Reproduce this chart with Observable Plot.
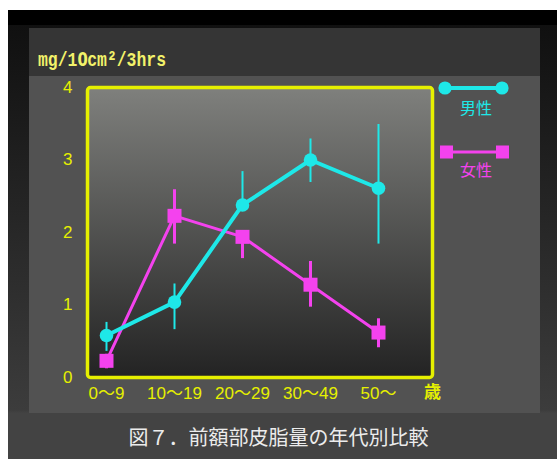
<!DOCTYPE html>
<html>
<head>
<meta charset="utf-8">
<script src="https://cdn.jsdelivr.net/npm/d3@7"></script>
<script src="https://cdn.jsdelivr.net/npm/@observablehq/plot@0.6"></script>
<style>
  html, body { margin: 0; padding: 0; background: #fff; }
  #stage { position: relative; width: 557px; height: 459px; overflow: hidden; }
  #outer {
    position: absolute; left: 8px; top: 10px; width: 549px; height: 449px;
    background: linear-gradient(to bottom, #000 0px, #000 15px, #101010 15px, #3c3c3c 400px, #434343 403px, #434343 100%);
  }
  #panel {
    position: absolute; left: 29px; top: 28px; width: 511px; height: 385px;
    background: linear-gradient(to bottom, #353535 0px, #353535 48px, #525252 48px, #525252 100%);
  }
  #unit {
    position: absolute; left: 38px; top: 49px; line-height: 20px; display: inline-block;
    font-family: "Liberation Mono", monospace; font-size: 20px; font-weight: bold; color: #f2f26a;
    transform-origin: left top; white-space: nowrap;
  }
  #unit .plain0 {
    display: inline-block; width: 12px; text-align: center;
    font-family: "DejaVu Sans Condensed", "DejaVu Sans", sans-serif;
  }
  #chart { position: absolute; left: 0; top: 0; }
  #legend { position: absolute; left: 430px; top: 75px; }
  #caption {
    position: absolute; left: 0; top: 427px; width: 557px; line-height: 20px;
    text-align: center; font-family: "Noto Sans CJK JP", sans-serif; font-size: 20px; color: #ececec;
  }
</style>
</head>
<body>
<div id="stage">
  <div id="outer"></div>
  <div id="panel"></div>
  <div id="unit">mg/1<span class="plain0">0</span>cm²/3hrs</div>
  <div id="chart"></div>
  <div id="legend"></div>
  <div id="caption">図７．前額部皮脂量の年代別比較</div>
</div>
<script>
// Age groups (x axis)
const ages = ["0〜9", "10〜19", "20〜29", "30〜49", "50〜"];
const yTicks = [0, 1, 2, 3, 4];
const ageUnit = "歳";

// Forehead sebum, men: mean and error-bar ends
const maleMean = [0.58, 1.04, 2.38, 3.00, 2.61];
const maleLow  = [0.36, 0.66, 2.38, 2.69, 1.84];
const maleHigh = [0.76, 1.29, 2.84, 3.29, 3.49];

// Forehead sebum, women: mean and error-bar ends
const femaleMean = [0.23, 2.23, 1.94, 1.28, 0.62];
const femaleLow  = [0.12, 1.84, 1.64, 0.97, 0.41];
const femaleHigh = [0.32, 2.59, 1.94, 1.60, 0.81];

const seriesNames = ["男性", "女性"];

const cyan = "#1ee8e8";
const magenta = "#f442ee";
const yellow = "#e6f000";

const rows = (mean, low, high) => ages.map((age, i) => ({age, mean: mean[i], low: low[i], high: high[i]}));
const male = rows(maleMean, maleLow, maleHigh);
const female = rows(femaleMean, femaleLow, femaleHigh);

const PLACEHOLDER = "#010203";

const chart = Plot.plot({
  width: 557,
  height: 459,
  marginTop: 87,
  marginBottom: 82,
  marginLeft: 87,
  marginRight: 125,
  style: {
    background: "transparent",
    color: yellow,
    fontSize: "17px",
    fontFamily: '"Liberation Sans", "Noto Sans CJK JP", sans-serif',
    overflow: "visible"
  },
  x: {type: "point", domain: ages, range: [105, 379], padding: 0, label: null, tickSize: 0, tickPadding: 9},
  y: {domain: [0, 4], ticks: yTicks, tickFormat: d => String(d), label: null, tickSize: 0, tickPadding: 15},
  marks: [
    Plot.frame({fill: PLACEHOLDER, stroke: "none"}),
    Plot.ruleX(female, {x: "age", y1: "low", y2: "high", stroke: magenta, strokeWidth: 3}),
    Plot.line(female, {x: "age", y: "mean", stroke: magenta, strokeWidth: 3}),
    Plot.dot(female, {x: "age", y: "mean", symbol: "square", r: 7.9, fill: magenta, stroke: "none"}),
    Plot.ruleX(male, {x: "age", y1: "low", y2: "high", stroke: cyan, strokeWidth: 2}),
    Plot.line(male, {x: "age", y: "mean", stroke: cyan, strokeWidth: 4}),
    Plot.dot(male, {x: "age", y: "mean", r: 6.8, fill: cyan, stroke: "none"}),
    Plot.frame({stroke: yellow, strokeWidth: 3.5, rx: 3}),
    Plot.text([ageUnit], {text: d => d, frameAnchor: "bottom-right", dy: 15, textAnchor: "middle", lineAnchor: "middle", fill: yellow, fontSize: 17, fontWeight: "bold"})
  ]
});

// Vertical shading inside the plot frame
const svg = d3.select(chart);
const grad = svg.insert("defs", ":first-child")
  .append("linearGradient").attr("id", "plot-bg")
  .attr("x1", 0).attr("y1", 0).attr("x2", 0).attr("y2", 1);
grad.append("stop").attr("offset", "0%").attr("stop-color", "#7f807d");
grad.append("stop").attr("offset", "100%").attr("stop-color", "#232323");
svg.selectAll(`[fill="${PLACEHOLDER}"]`).attr("fill", "url(#plot-bg)");

document.getElementById("chart").appendChild(chart);

// Squeeze the unit label horizontally to its narrow width
const unit = document.getElementById("unit");
const unitWidth = unit.getBoundingClientRect().width;
unit.style.transform = `scaleX(${128 / unitWidth})`;

// Legend
const legend = d3.select("#legend").append("svg").attr("width", 100).attr("height", 110)
  .style("overflow", "visible");
const lg = legend.append("g");
lg.append("line").attr("x1", 15).attr("x2", 72).attr("y1", 13).attr("y2", 13)
  .attr("stroke", cyan).attr("stroke-width", 4);
lg.selectAll("circle.m").data([15, 72]).join("circle")
  .attr("cx", d => d).attr("cy", 13).attr("r", 6.6).attr("fill", cyan);
lg.append("text").attr("x", 46).attr("y", 33).attr("text-anchor", "middle").attr("dy", "0.35em")
  .attr("fill", cyan).attr("font-family", '"Noto Sans CJK JP", sans-serif').attr("font-size", 16)
  .text(seriesNames[0]);
lg.append("line").attr("x1", 16).attr("x2", 73).attr("y1", 77).attr("y2", 77)
  .attr("stroke", magenta).attr("stroke-width", 3);
lg.selectAll("rect.f").data([16.5, 72.5]).join("rect")
  .attr("x", d => d - 6.5).attr("y", 70.5).attr("width", 13).attr("height", 13).attr("fill", magenta);
lg.append("text").attr("x", 46).attr("y", 95).attr("text-anchor", "middle").attr("dy", "0.35em")
  .attr("fill", magenta).attr("font-family", '"Noto Sans CJK JP", sans-serif').attr("font-size", 16)
  .text(seriesNames[1]);
</script>
</body>
</html>
